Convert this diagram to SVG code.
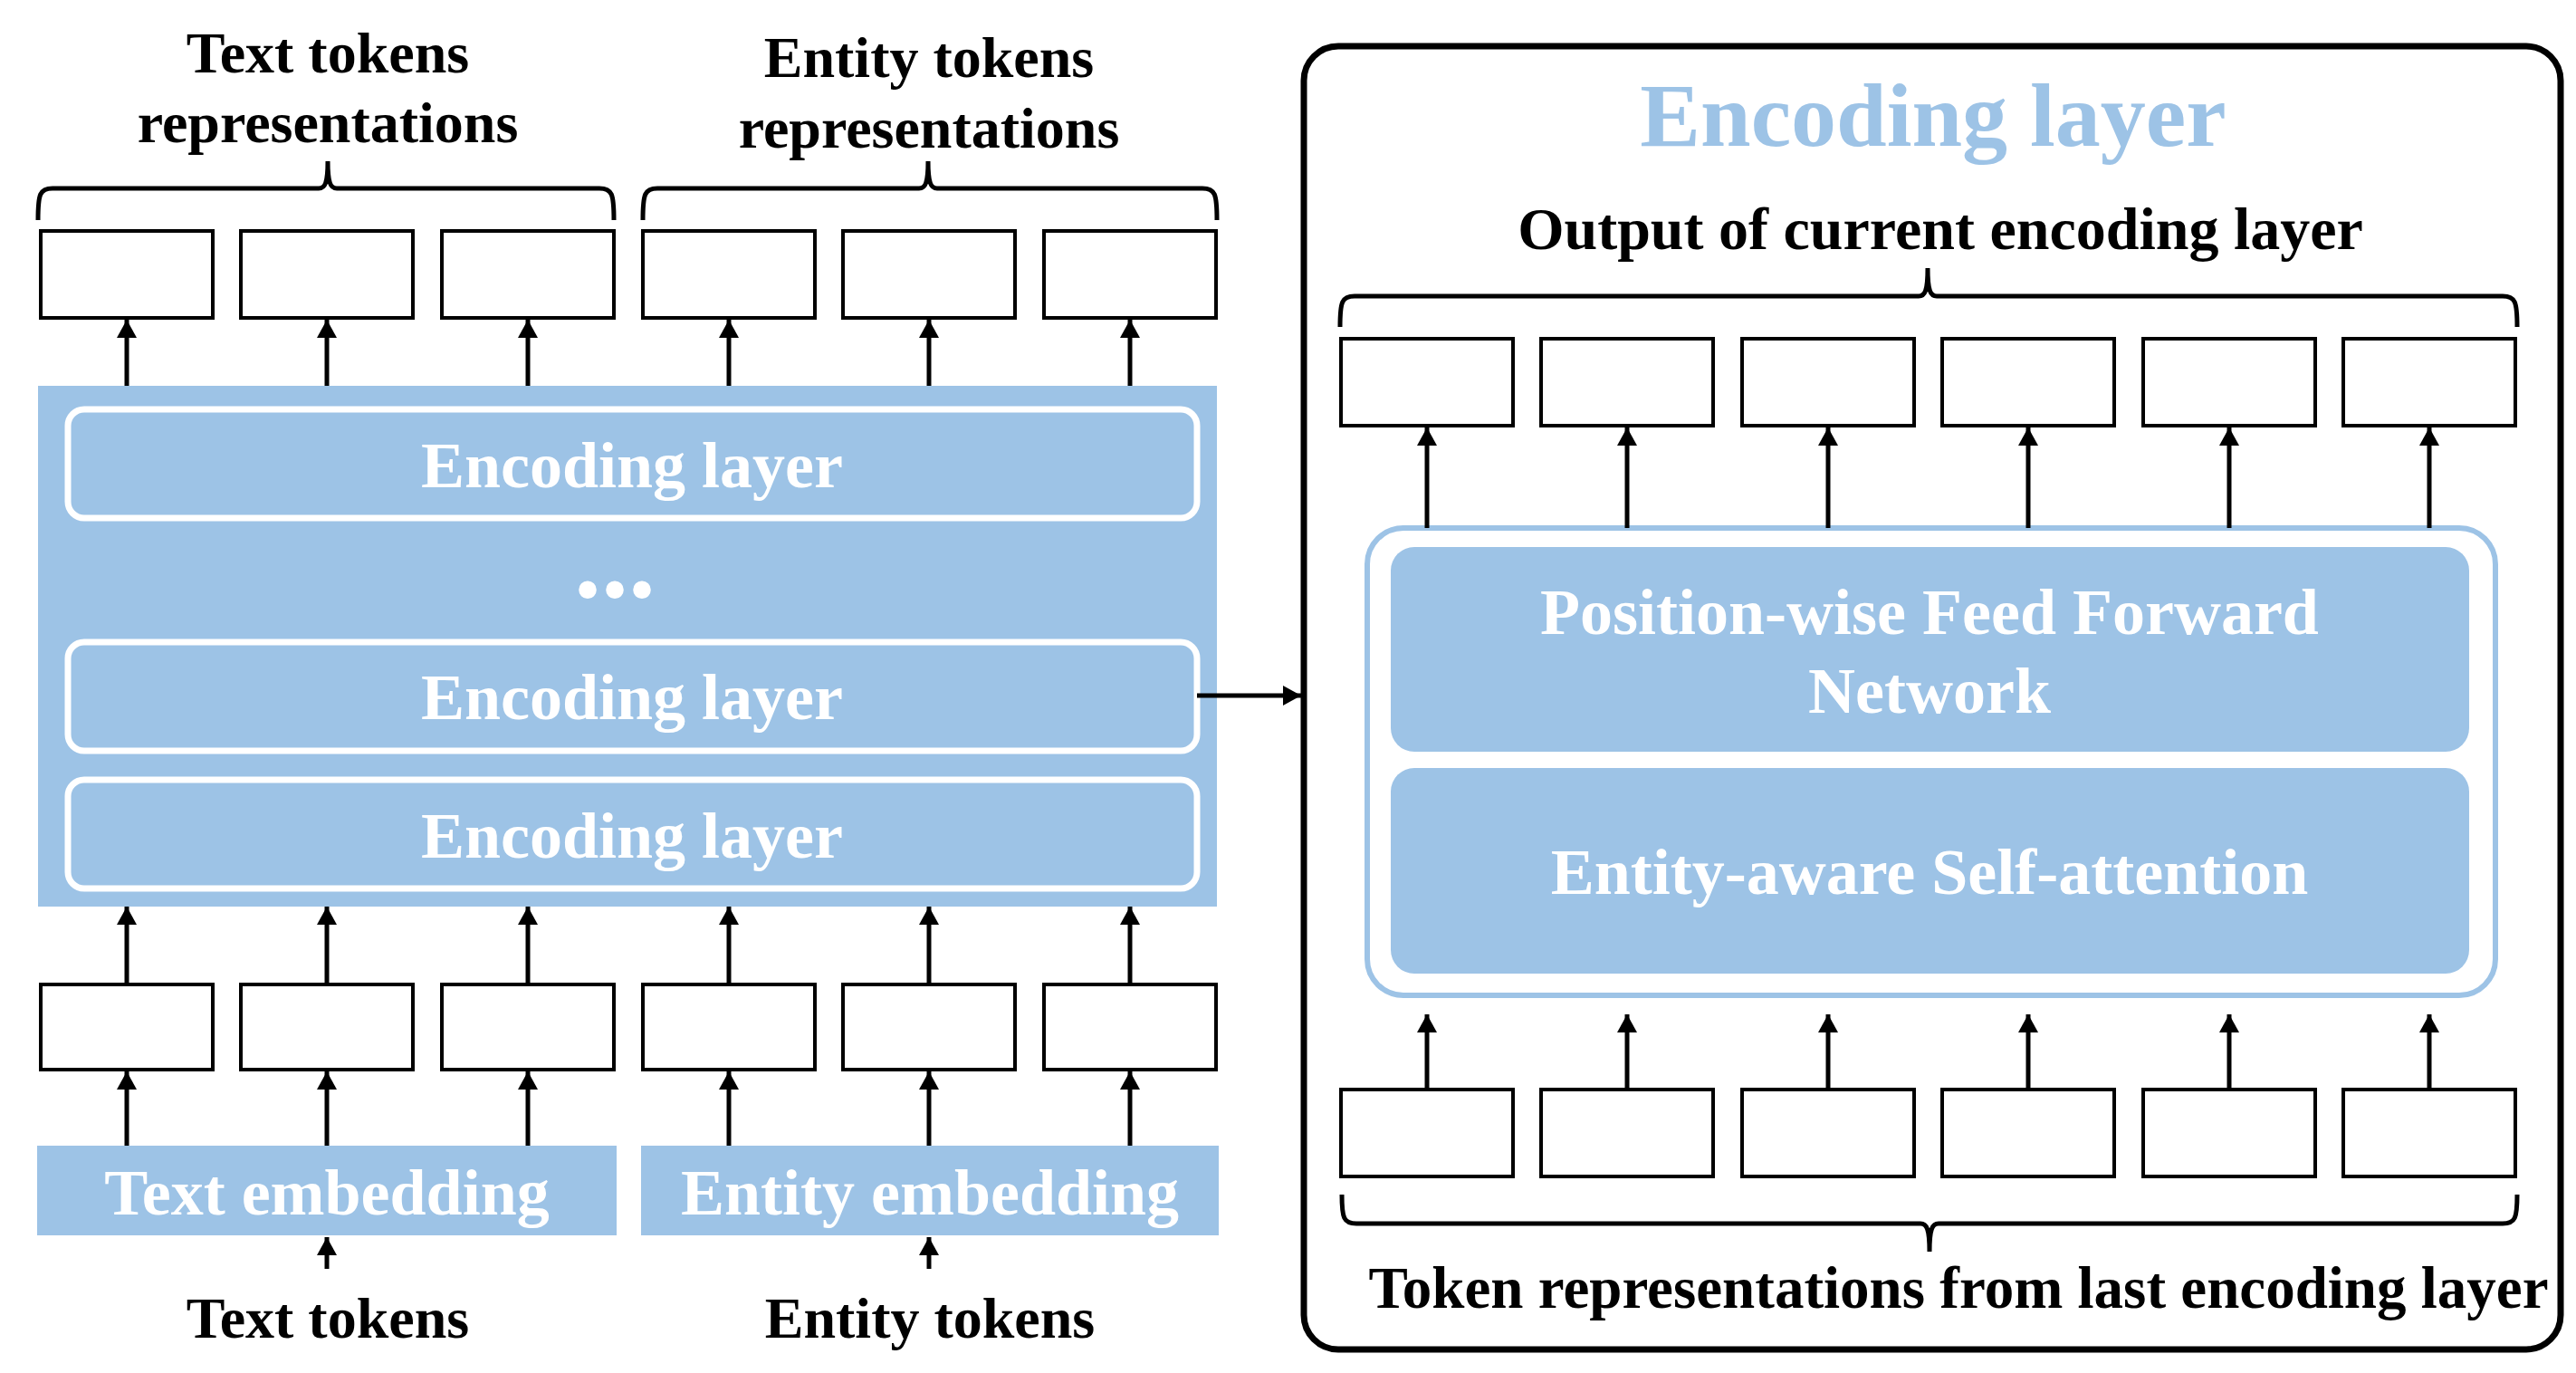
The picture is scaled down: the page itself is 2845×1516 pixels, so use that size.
<svg xmlns="http://www.w3.org/2000/svg" width="2845" height="1516" viewBox="0 0 2845 1516">
<defs>
<style>
.t{font-family:"Liberation Serif","Times New Roman",serif;font-weight:bold;text-anchor:middle}
.lbl{font-size:64px;fill:#000}
.wt{font-size:72px;fill:#fff}
.box{fill:#fff;stroke:#000;stroke-width:4}
.ar{stroke:#000;stroke-width:5;fill:none;marker-end:url(#ah)}
.br{stroke:#000;stroke-width:5;fill:none}
.blue{fill:#9DC3E6}
.layer{fill:#9DC3E6;stroke:#fff;stroke-width:7}
</style>
<marker id="ah" markerUnits="userSpaceOnUse" markerWidth="22" markerHeight="24" refX="20" refY="11" orient="auto">
<path d="M0,0 L20,11 L0,22 z" fill="#000"/>
</marker>
</defs>
<rect width="2845" height="1516" fill="#fff"/>

<!-- Left top labels -->
<g id="label-text-repr">
<text class="t lbl" x="362" y="80">Text tokens</text>
<text class="t lbl" x="362" y="157">representations</text>
</g>
<g id="label-entity-repr">
<text class="t lbl" x="1026" y="85">Entity tokens</text>
<text class="t lbl" x="1026" y="163">representations</text>
</g>

<!-- Left braces -->
<g id="braces-left">
<path class="br" d="M42,243 C42,214 44,208 58,208 L352,208 C359,208 362,202 362,178 C362,202 365,208 372,208 L662,208 C676,208 678,214 678,243"/>
<path class="br" d="M710,243 C710,214 712,208 726,208 L1015,208 C1022,208 1025,202 1025,178 C1025,202 1028,208 1035,208 L1328,208 C1342,208 1344,214 1344,243"/>
</g>

<!-- Left top boxes -->
<g id="left-top-boxes">
<rect class="box" x="45" y="255" width="190" height="96"/>
<rect class="box" x="266" y="255" width="190" height="96"/>
<rect class="box" x="488" y="255" width="190" height="96"/>
<rect class="box" x="710" y="255" width="190" height="96"/>
<rect class="box" x="931" y="255" width="190" height="96"/>
<rect class="box" x="1153" y="255" width="190" height="96"/>
</g>

<!-- Left encoder stack -->
<g id="encoder-stack">
<rect class="blue" x="42" y="426" width="1302" height="575"/>
<rect class="layer" x="75" y="452" width="1247" height="120" rx="18"/>
<text class="t wt" x="698" y="538">Encoding layer</text>
<text class="t" x="679" y="659" style="font-size:120px;fill:#fff">...</text>
<rect class="layer" x="75" y="709" width="1247" height="120" rx="18"/>
<text class="t wt" x="698" y="794">Encoding layer</text>
<rect class="layer" x="75" y="861" width="1247" height="120" rx="18"/>
<text class="t wt" x="698" y="947">Encoding layer</text>
</g>

<!-- Left middle boxes -->
<g id="left-mid-boxes">
<rect class="box" x="45" y="1087" width="190" height="94"/>
<rect class="box" x="266" y="1087" width="190" height="94"/>
<rect class="box" x="488" y="1087" width="190" height="94"/>
<rect class="box" x="710" y="1087" width="190" height="94"/>
<rect class="box" x="931" y="1087" width="190" height="94"/>
<rect class="box" x="1153" y="1087" width="190" height="94"/>
</g>

<!-- Embeddings -->
<g id="text-embedding">
<rect class="blue" x="41" y="1265" width="640" height="99"/>
<text class="t wt" x="361" y="1341">Text embedding</text>
</g>
<g id="entity-embedding">
<rect class="blue" x="708" y="1265" width="638" height="99"/>
<text class="t wt" x="1027" y="1341">Entity embedding</text>
</g>

<g id="label-text-tokens"><text class="t lbl" x="362" y="1477">Text tokens</text></g>
<g id="label-entity-tokens"><text class="t lbl" x="1027" y="1477">Entity tokens</text></g>

<!-- Right detail panel -->
<g id="encoding-layer-detail">
<rect x="1440" y="51" width="1388" height="1439" rx="38" fill="#fff" stroke="#000" stroke-width="7"/>
<text class="t" x="2135" y="161" style="font-size:100px;fill:#9DC3E6">Encoding layer</text>
<text class="t" x="2143" y="275" style="font-size:66px;fill:#000">Output of current encoding layer</text>
</g>

<g id="right-braces">
<path class="br" d="M1480,361 C1480,333 1482,327 1496,327 L2119,327 C2126,327 2129,321 2129,296 C2129,321 2132,327 2139,327 L2764,327 C2778,327 2780,333 2780,361"/>
<path class="br" d="M1482,1319 C1482,1345 1484,1351 1498,1351 L2121,1351 C2128,1351 2131,1357 2131,1382 C2131,1357 2134,1351 2141,1351 L2764,1351 C2778,1351 2780,1345 2780,1319"/>
</g>

<g id="right-top-boxes">
<rect class="box" x="1481" y="374" width="190" height="96"/>
<rect class="box" x="1702" y="374" width="190" height="96"/>
<rect class="box" x="1924" y="374" width="190" height="96"/>
<rect class="box" x="2145" y="374" width="190" height="96"/>
<rect class="box" x="2367" y="374" width="190" height="96"/>
<rect class="box" x="2588" y="374" width="190" height="96"/>
</g>

<g id="sublayers">
<rect x="1510" y="583" width="1246" height="516" rx="40" fill="#fff" stroke="#9DC3E6" stroke-width="6"/>
<rect class="blue" x="1536" y="604" width="1191" height="226" rx="26"/>
<text class="t wt" x="2131" y="700">Position-wise Feed Forward</text>
<text class="t wt" x="2131" y="787">Network</text>
<rect class="blue" x="1536" y="848" width="1191" height="227" rx="26"/>
<text class="t wt" x="2131" y="987">Entity-aware Self-attention</text>
</g>

<g id="right-bottom-boxes">
<rect class="box" x="1481" y="1203" width="190" height="96"/>
<rect class="box" x="1702" y="1203" width="190" height="96"/>
<rect class="box" x="1924" y="1203" width="190" height="96"/>
<rect class="box" x="2145" y="1203" width="190" height="96"/>
<rect class="box" x="2367" y="1203" width="190" height="96"/>
<rect class="box" x="2588" y="1203" width="190" height="96"/>
</g>

<g id="label-token-repr"><text class="t" x="2163" y="1444" style="font-size:65px;fill:#000">Token representations from last encoding layer</text></g>

<!-- Connectors -->
<g id="connectors">
<line class="ar" x1="140" y1="426" x2="140" y2="353"/>
<line class="ar" x1="361" y1="426" x2="361" y2="353"/>
<line class="ar" x1="583" y1="426" x2="583" y2="353"/>
<line class="ar" x1="805" y1="426" x2="805" y2="353"/>
<line class="ar" x1="1026" y1="426" x2="1026" y2="353"/>
<line class="ar" x1="1248" y1="426" x2="1248" y2="353"/>

<line class="ar" x1="140" y1="1087" x2="140" y2="1001"/>
<line class="ar" x1="361" y1="1087" x2="361" y2="1001"/>
<line class="ar" x1="583" y1="1087" x2="583" y2="1001"/>
<line class="ar" x1="805" y1="1087" x2="805" y2="1001"/>
<line class="ar" x1="1026" y1="1087" x2="1026" y2="1001"/>
<line class="ar" x1="1248" y1="1087" x2="1248" y2="1001"/>

<line class="ar" x1="140" y1="1265" x2="140" y2="1183"/>
<line class="ar" x1="361" y1="1265" x2="361" y2="1183"/>
<line class="ar" x1="583" y1="1265" x2="583" y2="1183"/>
<line class="ar" x1="805" y1="1265" x2="805" y2="1183"/>
<line class="ar" x1="1026" y1="1265" x2="1026" y2="1183"/>
<line class="ar" x1="1248" y1="1265" x2="1248" y2="1183"/>

<line class="ar" x1="361" y1="1401" x2="361" y2="1366"/>
<line class="ar" x1="1026" y1="1401" x2="1026" y2="1366"/>

<line class="ar" x1="1322" y1="768" x2="1437" y2="768"/>

<line class="ar" x1="1576" y1="583" x2="1576" y2="472"/>
<line class="ar" x1="1797" y1="583" x2="1797" y2="472"/>
<line class="ar" x1="2019" y1="583" x2="2019" y2="472"/>
<line class="ar" x1="2240" y1="583" x2="2240" y2="472"/>
<line class="ar" x1="2462" y1="583" x2="2462" y2="472"/>
<line class="ar" x1="2683" y1="583" x2="2683" y2="472"/>

<line class="ar" x1="1576" y1="1203" x2="1576" y2="1120"/>
<line class="ar" x1="1797" y1="1203" x2="1797" y2="1120"/>
<line class="ar" x1="2019" y1="1203" x2="2019" y2="1120"/>
<line class="ar" x1="2240" y1="1203" x2="2240" y2="1120"/>
<line class="ar" x1="2462" y1="1203" x2="2462" y2="1120"/>
<line class="ar" x1="2683" y1="1203" x2="2683" y2="1120"/>
</g>
</svg>
